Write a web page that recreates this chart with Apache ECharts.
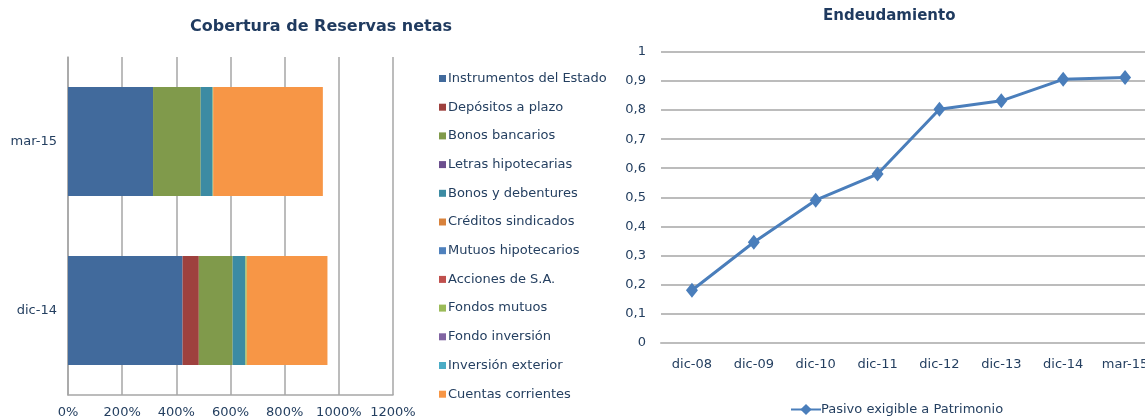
<!DOCTYPE html>
<html>
<head>
<meta charset="utf-8">
<script src="https://cdn.jsdelivr.net/npm/echarts@6/dist/echarts.min.js"></script>
<style>
    html, body { margin: 0; padding: 0; background: #fff; }
    #chart { width: 1145px; height: 419px; }
</style>
</head>
<body>
<div id="chart"></div>
<script>
// Cobertura de Reservas netas (%)
var fechasReservas = ['dic-14', 'mar-15'];
var instrumentosEstado = [423, 314];
var depositosPlazo = [60, 0];
var bonosBancarios = [125, 176];
var letrasHipotecarias = [0, 0];
var bonosDebentures = [47, 44];
var creditosSindicados = [0, 0];
var mutuosHipotecarios = [0, 0];
var accionesSA = [0, 0];
var fondosMutuos = [5, 2];
var fondoInversion = [0, 0];
var inversionExterior = [0, 0];
var cuentasCorrientes = [298, 405];
var ticksReservas = [0, 200, 400, 600, 800, 1000, 1200];

// Endeudamiento
var fechasEndeud = ['dic-08', 'dic-09', 'dic-10', 'dic-11', 'dic-12', 'dic-13', 'dic-14', 'mar-15'];
var pasivoPatrimonio = [0.18, 0.345, 0.49, 0.58, 0.803, 0.832, 0.906, 0.912];

var chart = echarts.init(document.getElementById('chart'));

var txt = '#243F60';
var fuente = 'DejaVu Sans';

var reservas = [
    ['Instrumentos del Estado', instrumentosEstado, '#416A9C'],
    ['Depósitos a plazo', depositosPlazo, '#9E413E'],
    ['Bonos bancarios', bonosBancarios, '#809A4B'],
    ['Letras hipotecarias', letrasHipotecarias, '#6B4F8E'],
    ['Bonos y debentures', bonosDebentures, '#3C8BA3'],
    ['Créditos sindicados', creditosSindicados, '#D8823C'],
    ['Mutuos hipotecarios', mutuosHipotecarios, '#4F81BD'],
    ['Acciones de S.A.', accionesSA, '#C0504D'],
    ['Fondos mutuos', fondosMutuos, '#9BBB59'],
    ['Fondo inversión', fondoInversion, '#8064A2'],
    ['Inversión exterior', inversionExterior, '#4BACC6'],
    ['Cuentas corrientes', cuentasCorrientes, '#F79646']
];

var series = [];
for (var i = 0; i < reservas.length; i++) {
    series.push({
        name: reservas[i][0],
        type: 'bar',
        stack: 'total',
        xAxisIndex: 0,
        yAxisIndex: 0,
        barWidth: 109,
        itemStyle: { color: reservas[i][2] },
        data: reservas[i][1]
    });
}
series.push({
    name: 'Pasivo exigible a Patrimonio',
    type: 'line',
    xAxisIndex: 1,
    yAxisIndex: 1,
    symbol: 'diamond',
    symbolSize: [12, 15],
    lineStyle: { color: '#4A7EBB', width: 3 },
    itemStyle: { color: '#4A7EBB' },
    data: pasivoPatrimonio
});

var option = {
    animation: false,
    textStyle: { fontFamily: fuente },
    title: [
        {
            text: 'Cobertura de Reservas netas',
            left: 185, top: 14,
            textStyle: { fontSize: 16, fontWeight: 'bold', color: '#1F3A5F', fontFamily: fuente }
        },
        {
            text: 'Endeudamiento',
            left: 818, top: 4,
            textStyle: { fontSize: 15, fontWeight: 'bold', color: '#1F3A5F', fontFamily: fuente }
        }
    ],
    legend: [
        {
            orient: 'vertical',
            left: 434, top: 66,
            icon: 'rect',
            itemWidth: 7, itemHeight: 7,
            itemGap: 13.7,
            textStyle: { fontSize: 13, color: txt, fontFamily: fuente, lineHeight: 15, padding: [0, 0, 0, -3] },
            data: reservas.map(function (r) { return r[0]; })
        },
        {
            left: 785, top: 398,
            itemWidth: 30, itemHeight: 14,
            textStyle: { fontSize: 13, color: txt, fontFamily: fuente, padding: [0, 0, 0, -5] },
            data: ['Pasivo exigible a Patrimonio']
        }
    ],
    grid: [
        { left: 68, top: 57, width: 325, height: 338, outerBoundsMode: 'none' },
        { left: 661, top: 52, width: 495, height: 290.5, outerBoundsMode: 'none' }
    ],
    xAxis: [
        {
            type: 'value', gridIndex: 0,
            min: ticksReservas[0], max: ticksReservas[ticksReservas.length - 1], interval: 200,
            axisLine: { show: true, lineStyle: { color: '#A6A6A6', width: 1.5 } },
            axisTick: { show: false },
            splitLine: { lineStyle: { color: '#A6A6A6', width: 1.5 } },
            axisLabel: {
                color: txt, fontSize: 13, fontFamily: fuente, margin: 11,
                formatter: function (v) { return v + '%'; }
            }
        },
        {
            type: 'category', gridIndex: 1, data: fechasEndeud,
            axisLine: { show: true, lineStyle: { color: '#BDBDBD', width: 2 } },
            axisTick: { show: false },
            axisLabel: { color: txt, fontSize: 13, fontFamily: fuente, margin: 16 }
        }
    ],
    yAxis: [
        {
            type: 'category', gridIndex: 0, data: fechasReservas,
            axisLine: { show: true, lineStyle: { color: '#A6A6A6', width: 1.5 } },
            axisTick: { show: false },
            axisLabel: { color: txt, fontSize: 13, fontFamily: fuente, margin: 11 }
        },
        {
            type: 'value', gridIndex: 1, min: 0, max: 1, interval: 0.1,
            axisLine: { show: false },
            axisTick: { show: false },
            splitLine: { lineStyle: { color: '#A6A6A6', width: 1.5 } },
            axisLabel: {
                color: txt, fontSize: 13, fontFamily: fuente, margin: 15,
                formatter: function (v) { return String(Math.round(v * 10) / 10).replace('.', ','); }
            }
        }
    ],
    series: series
};

chart.setOption(option);
</script>
</body>
</html>
